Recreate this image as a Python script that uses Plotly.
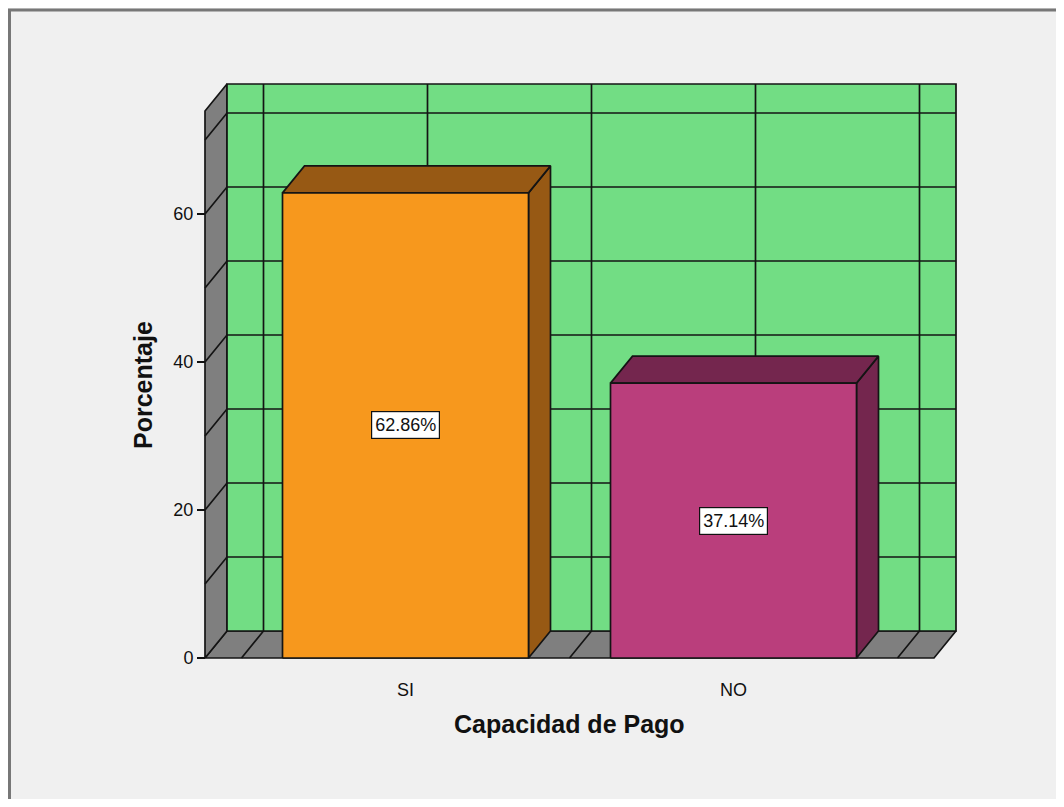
import plotly.graph_objects as go

# ---------------- data ----------------
categories = ["SI", "NO"]
percentages = [62.86, 37.14]
y_tick_values = [0, 20, 40, 60]
wall_grid_values = [10, 20, 30, 40, 50, 60, 70]
x_grid_values = [-0.5, 0.0, 0.5, 1.0, 1.5]

# ---------------- geometry (page pixels) ----------------
OFF = 8                      # browser body margin
FIG_W, FIG_H = 1064 - 2 * OFF, 807 - 2 * OFF
KX, X0PX = 328.0, 405.5      # px per category unit, px of category 0
KY, Y0PX = 7.4, 658.0        # px per percent, px of value 0
PL, PR, PT, PB = 201, 961, 80, 662   # plot area in page px

def xv(px):
    return (px - X0PX) / KX

def yv(py):
    return (Y0PX - py) / KY

XL, XR = xv(205), xv(934)    # front-left / front-right edge of the box
YT = yv(111)                 # front top of the left wall
DX, DY = 22 / KX, 27 / KY    # depth offset
BAR_W = 0.75

def px2paper_x(px):
    return (px - PL) / (PR - PL)

def py2paper_y(py):
    return (PB - py) / (PB - PT)

LINE = dict(color="#141414", width=1.7)
GREEN = "#72DD84"
GRAY = "#7F7F7F"
FRONT = ["#F7981D", "#BA3E7C"]
DARK = ["#975914", "#74264E"]
FONT = "Liberation Sans, Arial"

fig = go.Figure()

def poly(xs, ys, fill):
    fig.add_trace(go.Scatter(
        x=list(xs) + [xs[0]], y=list(ys) + [ys[0]], mode="lines",
        fill="toself", fillcolor=fill, line=LINE, hoverinfo="skip",
        showlegend=False))

# floor
poly([XL, XR, XR + DX, XL + DX], [0, 0, DY, DY], GRAY)
# left wall
poly([XL, XL + DX, XL + DX, XL], [0, DY, YT + DY, YT], GRAY)
# back wall
poly([XL + DX, XR + DX, XR + DX, XL + DX], [DY, DY, YT + DY, YT + DY], GREEN)

# grid lines: back wall horizontals + left-wall diagonals
gx, gy = [], []
for v in wall_grid_values:
    gx += [XL, XL + DX, XR + DX, None]
    gy += [v, v + DY, v + DY, None]
# back wall verticals + floor diagonals
for c in x_grid_values:
    gx += [c, c + DX, c + DX, None]
    gy += [0, DY, YT + DY, None]
fig.add_trace(go.Scatter(x=gx, y=gy, mode="lines", line=LINE,
                         hoverinfo="skip", showlegend=False))

# 3D bars
for i, v in enumerate(percentages):
    x0, x1 = i - BAR_W / 2, i + BAR_W / 2
    # side face
    poly([x1, x1 + DX, x1 + DX, x1], [0, DY, v + DY, v], DARK[i])
    # top face
    poly([x0, x1, x1 + DX, x0 + DX], [v, v, v + DY, v + DY], DARK[i])
    # front face
    poly([x0, x1, x1, x0], [0, 0, v, v], FRONT[i])

annotations = []
for i, v in enumerate(percentages):
    annotations.append(dict(
        x=i, y=v / 2, xref="x", yref="y", text=f"{v:.2f}%", showarrow=False,
        bgcolor="white", bordercolor="#111111", borderwidth=1.2, borderpad=3,
        font=dict(family=FONT, size=18, color="#111111")))

annotations.append(dict(
    x=px2paper_x(569), y=py2paper_y(724), xref="paper", yref="paper",
    text="<b>Capacidad de Pago</b>", showarrow=False,
    xanchor="center", yanchor="middle",
    font=dict(family=FONT, size=25, color="#111111")))
annotations.append(dict(
    x=px2paper_x(143), y=py2paper_y(385), xref="paper", yref="paper",
    text="<b>Porcentaje</b>", showarrow=False, textangle=-90,
    xanchor="center", yanchor="middle",
    font=dict(family=FONT, size=25, color="#111111")))

shapes = [
    # outer frame (left and top edges)
    dict(type="line", xref="paper", yref="paper",
         x0=px2paper_x(9.5), x1=px2paper_x(9.5),
         y0=py2paper_y(9), y1=py2paper_y(830),
         line=dict(color="#777777", width=3)),
    dict(type="line", xref="paper", yref="paper",
         x0=px2paper_x(8), x1=px2paper_x(1100),
         y0=py2paper_y(10), y1=py2paper_y(10),
         line=dict(color="#777777", width=3)),
]

fig.update_layout(
    width=FIG_W, height=FIG_H,
    margin=dict(l=PL - OFF, r=FIG_W - (PR - OFF), t=PT - OFF, b=FIG_H - (PB - OFF)),
    paper_bgcolor="#F0F0F0", plot_bgcolor="#F0F0F0",
    font=dict(family=FONT, color="#111111"),
    showlegend=False,
    annotations=annotations, shapes=shapes,
    xaxis=dict(range=[xv(PL), xv(PR)], showgrid=False, zeroline=False,
               showline=False, tickmode="array", tickvals=[0, 1],
               ticktext=categories, ticks="outside", ticklen=11,
               tickcolor="rgba(0,0,0,0)", tickfont=dict(size=18)),
    yaxis=dict(range=[yv(PB), yv(PT)], showgrid=False, zeroline=False,
               showline=False, tickmode="array", tickvals=y_tick_values,
               ticks="outside", ticklen=8, tickwidth=1.5, tickcolor="#111111",
               tickfont=dict(size=18), anchor="free",
               position=px2paper_x(205)),
)

fig.write_html("out.html")
